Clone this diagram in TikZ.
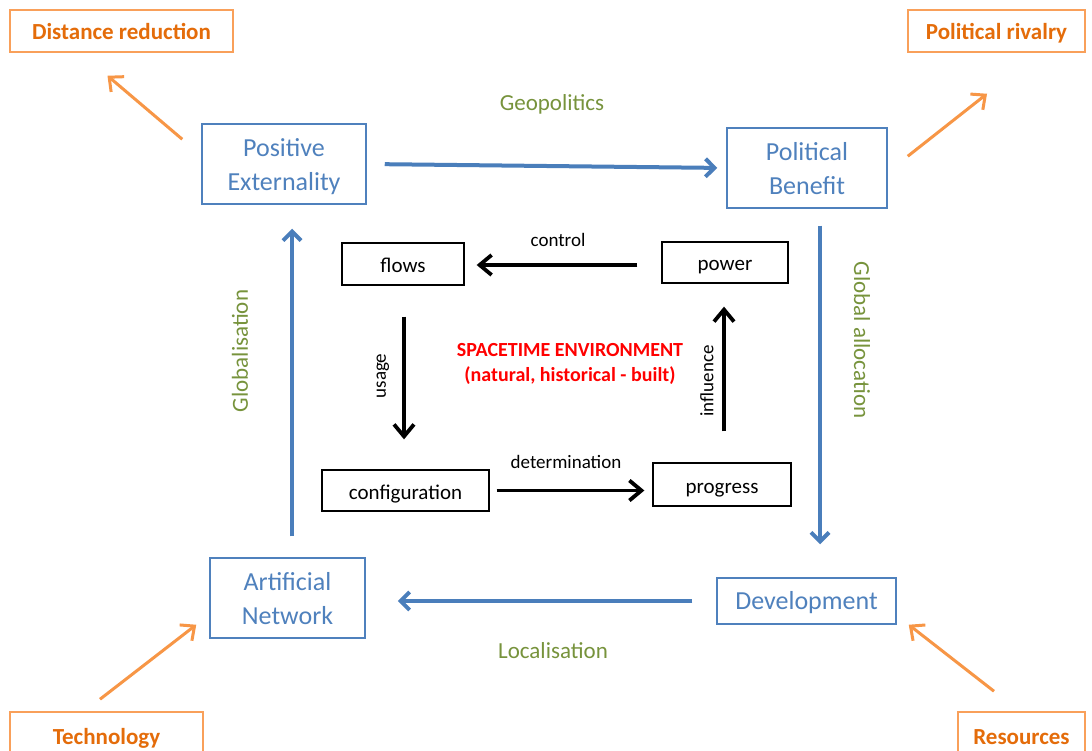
\documentclass[tikz,border=0pt]{standalone}
\usepackage{fontspec}
\setmainfont{Carlito}
\usetikzlibrary{arrows.meta,calc}
\definecolor{cblue}{HTML}{4F81BD}
\definecolor{cbluearr}{HTML}{4A7EBB}
\definecolor{corange}{HTML}{E46C0A}
\definecolor{coborder}{HTML}{F9A05A}
\definecolor{coarr}{HTML}{F79646}
\definecolor{cgreen}{HTML}{77933C}
\tikzset{
  bluebox/.style={draw=cblue, line width=1.5pt, text=cblue, align=center, inner sep=2pt,
    font=\fontsize{26}{34}\selectfont, text height=55pt, text depth=2pt},
  orangebox/.style={draw=coborder, line width=1.5pt, text=corange, align=center, inner sep=2pt,
    font=\fontsize{23}{28}\selectfont\bfseries, text height=20pt, text depth=2pt},
  blackbox/.style={draw=black, line width=1.3pt, align=center, inner sep=2pt,
    font=\fontsize{21}{25}\selectfont, text height=20pt, text depth=3pt},
  barrow/.style={draw=cbluearr, line width=4pt, -{Straight Barb[length=9pt,width=18pt]}},
  karrow/.style={draw=black, line width=3.8pt, -{Straight Barb[length=12pt,width=20pt]}},
  oarrow/.style={draw=coarr, line width=3pt, -{Straight Barb[length=11pt,width=20pt]}},
  glabel/.style={text=cgreen, font=\fontsize{23}{28}\selectfont},
  klabel/.style={text=black, font=\fontsize{19}{23}\selectfont},
}
\begin{document}
\begin{tikzpicture}[x=1pt,y=-1pt]
\useasboundingbox[fill=white] (0,0) rectangle (1092,751);
% orange corner boxes
\node[orangebox, minimum width=223pt, minimum height=42pt] (DR) at (121.5,31) {Distance reduction};
\node[orangebox, minimum width=177pt, minimum height=42pt] (PR) at (996.5,31) {Political rivalry};
\node[orangebox, minimum width=193pt, minimum height=46pt] (TE) at (106.5,735) {Technology};
\node[orangebox, minimum width=127pt, minimum height=46pt] (RE) at (1021.5,735) {Resources};
% blue boxes
\node[bluebox, minimum width=164pt, minimum height=80pt] (PE) at (284,164) {Positive\\Externality};
\node[bluebox, minimum width=160pt, minimum height=80pt] (PB) at (807,168) {Political\\Benefit};
\node[bluebox, minimum width=155pt, minimum height=80pt] (AN) at (287.5,598) {Artificial\\Network};
\node[bluebox, minimum width=179pt, minimum height=46pt, text height=20pt, text depth=4pt] (DV) at (806.5,601) {Development};
% black boxes
\node[blackbox, minimum width=122pt, minimum height=42pt] (FL) at (403,264) {flows};
\node[blackbox, minimum width=126pt, minimum height=41pt] (PW) at (725,262.5) {power};
\node[blackbox, minimum width=167pt, minimum height=41pt] (CF) at (405.5,490.5) {configuration};
\node[blackbox, minimum width=138pt, minimum height=43pt] (PG) at (722,484.5) {progress};
% helper coordinates for offset connectors
\coordinate (pbs) at ($(PB.south)+(13,0)$);
\coordinate (ann) at ($(AN.north)+(4.5,0)$);
\coordinate (pww) at ($(PW.west)+(0,2.5)$);
\coordinate (fls) at ($(FL.south)+(1,0)$);
\coordinate (pgn) at ($(PG.north)+(2,0)$);
% blue arrows
\draw[barrow, shorten <=18pt, shorten >=9pt] (PE.east) -- (PB.west);
\draw[barrow, shorten <=17pt, shorten >=33pt] (pbs) -- (pbs |- DV.north);
\draw[barrow, shorten <=24pt, shorten >=32pt] (DV.west) -- (DV.west -| AN.east);
\draw[barrow, shorten <=21pt, shorten >=24pt] (ann) -- (ann |- PE.south);
% black arrows
\draw[karrow, shorten <=24pt, shorten >=12pt] (pww) -- (pww -| FL.east);
\draw[karrow, shorten <=31pt, shorten >=30pt] (fls) -- (fls |- CF.north);
\draw[karrow, shorten <=7pt, shorten >=8pt] (CF.east) -- (CF.east -| PG.west);
\draw[karrow, shorten <=31pt, shorten >=23pt] (pgn) -- (pgn |- PW.south);
% orange arrows
\draw[oarrow] ($(PE.north west)+(-19,16)$) -- ($(DR.south)+(-14,23)$);
\draw[oarrow] ($(PB.north east)+(20,29)$) -- ($(PR.south)+(-9.5,41)$);
\draw[oarrow] ($(TE.north)+(-6.5,-12)$) -- ($(AN.south west)+(-13,-14)$);
\draw[oarrow] ($(RE.north)+(-27.5,-20)$) -- ($(DV.south east)+(12,0)$);
% green labels
\node[glabel] (geo) at (552,104) {Geopolitics};
\node[glabel] (loc) at (553,651) {Localisation};
\node[glabel, rotate=90] (glob) at (240,351) {Globalisation};
\node[glabel, rotate=-90] (galloc) at (862,340) {Global allocation};
% black labels
\node[klabel] (ctl) at (558,240) {control};
\node[klabel] (det) at (566,462) {determination};
\node[klabel, rotate=90] (usg) at (383,376) {usage};
\node[klabel, rotate=90] (inf) at (707,381) {influence};
% centre text
\node[text=red, align=center, font=\fontsize{20}{25}\selectfont\bfseries] (ste) at (570,364)
  {SPACETIME ENVIRONMENT\\(natural, historical - built)};
\end{tikzpicture}
\end{document}
